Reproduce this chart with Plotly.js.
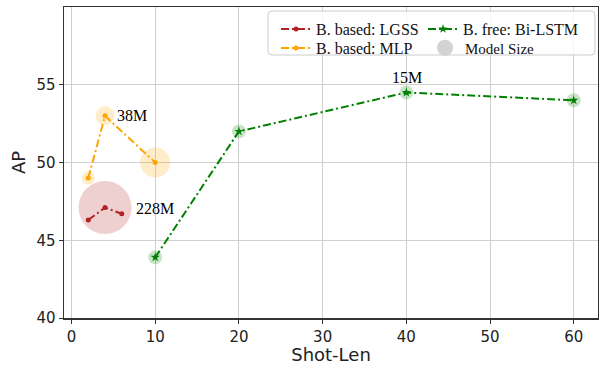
<!DOCTYPE html>
<html>
<head>
<meta charset="utf-8">
<script src="https://cdn.plot.ly/plotly-3.0.1.min.js"></script>
<style>html,body{margin:0;padding:0;background:#fff;} #chart{width:599px;height:365px;}</style>
</head>
<body>
<div id="chart"></div>
<script>
// Data
const lgssX = [2, 4, 6];
const lgssY = [46.3, 47.1, 46.7];
const mlpX = [2, 4, 10];
const mlpY = [49.0, 53.0, 50.0];
const lstmX = [10, 20, 40, 60];
const lstmY = [43.9, 52.0, 54.5, 54.0];

// Model size bubbles (diameters in px)
const lgssBubbleX = [4];
const lgssBubbleY = [47.1];
const lgssBubbleSize = [53];
const mlpBubbleSize = [13, 19, 30];
const lstmBubbleSize = [14, 14, 14, 14];

const sizeLabels = ["228M", "38M", "15M"];
const sizeLabelX = [4, 4, 40];
const sizeLabelY = [47.1, 53.0, 54.5];

const serif = "Liberation Serif, Times New Roman, serif";
const sans = "DejaVu Sans, sans-serif";
const dashdot = "8px,3px,2px,3px";

const W = 599, H = 365;
const M = {l: 64, r: 1, t: 7, b: 47};
const PW = W - M.l - M.r, PH = H - M.t - M.b;
const px2x = p => (p - M.l) / PW;
const px2y = p => (H - M.b - p) / PH;

const traces = [
  // bubbles
  {x: lgssBubbleX, y: lgssBubbleY, mode: 'markers', type: 'scatter', showlegend: false, hoverinfo: 'skip',
   marker: {size: lgssBubbleSize, color: 'rgba(178,34,34,0.3)', line: {width: 0}}},
  {x: mlpX, y: mlpY, mode: 'markers', type: 'scatter', showlegend: false, hoverinfo: 'skip',
   marker: {size: mlpBubbleSize, color: 'rgba(255,165,0,0.3)', line: {width: 0}}},
  {x: lstmX, y: lstmY, mode: 'markers', type: 'scatter', showlegend: false, hoverinfo: 'skip',
   marker: {size: lstmBubbleSize, color: 'rgba(0,128,0,0.3)', line: {width: 0}}},
  // lines
  {x: lgssX, y: lgssY, mode: 'lines+markers', type: 'scatter', name: 'B. based: LGSS', legend: 'legend',
   line: {color: '#b22222', width: 2, dash: dashdot}, marker: {symbol: 'circle', size: 5, color: '#b22222'}},
  {x: mlpX, y: mlpY, mode: 'lines+markers', type: 'scatter', name: 'B. based: MLP', legend: 'legend4',
   line: {color: 'orange', width: 2, dash: dashdot}, marker: {symbol: 'circle', size: 5, color: 'orange'}},
  {x: lstmX, y: lstmY, mode: 'lines+markers', type: 'scatter', name: 'B. free: Bi-LSTM', legend: 'legend2',
   line: {color: 'green', width: 2, dash: dashdot}, marker: {symbol: 'star', size: 7, color: 'green'}},
  {x: [null], y: [null], mode: 'markers', type: 'scatter', name: 'Model Size', legend: 'legend3',
   marker: {symbol: 'circle', size: 16, color: 'lightgray'}}
];

const annotations = [
  {x: sizeLabelX[0], y: sizeLabelY[0], text: sizeLabels[0], showarrow: false, xanchor: 'left', yanchor: 'middle', xshift: 29, yshift: -1,
   font: {family: serif, size: 16, color: '#000'}},
  {x: sizeLabelX[1], y: sizeLabelY[1], text: sizeLabels[1], showarrow: false, xanchor: 'left', yanchor: 'middle', xshift: 10, yshift: 0,
   font: {family: serif, size: 16, color: '#000'}},
  {x: sizeLabelX[2], y: sizeLabelY[2], text: sizeLabels[2], showarrow: false, xanchor: 'center', yanchor: 'bottom', xshift: 1, yshift: 5,
   font: {family: serif, size: 16, color: '#000'}}
];

// rounded legend frame (pixel box -> paper coords)
function roundRect(x0, y0, x1, y1, r) {
  const X = px2x, Y = px2y;
  return `M ${X(x0 + r)},${Y(y0)} L ${X(x1 - r)},${Y(y0)} Q ${X(x1)},${Y(y0)} ${X(x1)},${Y(y0 + r)} ` +
         `L ${X(x1)},${Y(y1 - r)} Q ${X(x1)},${Y(y1)} ${X(x1 - r)},${Y(y1)} ` +
         `L ${X(x0 + r)},${Y(y1)} Q ${X(x0)},${Y(y1)} ${X(x0)},${Y(y1 - r)} ` +
         `L ${X(x0)},${Y(y0 + r)} Q ${X(x0)},${Y(y0)} ${X(x0 + r)},${Y(y0)} Z`;
}

const legendCommon = {
  orientation: 'v', yanchor: 'top', xanchor: 'left',
  bgcolor: 'rgba(0,0,0,0)', borderwidth: 0, itemwidth: 30,
  font: {family: serif, size: 16, color: '#111'}, tracegroupgap: 0
};

const layout = {
  width: W, height: H,
  margin: M,
  paper_bgcolor: '#fff', plot_bgcolor: '#fff',
  xaxis: {
    range: [-0.9, 62.9], tickvals: [0,10,20,30,40,50,60], ticktext: ['0','10','20','30','40','50','60'],
    showgrid: true, gridcolor: '#cfcfcf', gridwidth: 1, zeroline: false,
    showline: true, linecolor: '#333', linewidth: 1.5, mirror: true,
    ticks: 'outside', ticklen: 4, tickcolor: '#333', tickwidth: 1,
    tickfont: {family: sans, size: 15, color: '#222'},
    title: {text: 'Shot-Len', font: {family: sans, size: 18, color: '#222'}, standoff: 3}
  },
  yaxis: {
    range: [40, 60], tickvals: [40,45,50,55], ticktext: ['40','45','50','55'],
    showgrid: true, gridcolor: '#cfcfcf', gridwidth: 1, zeroline: false,
    showline: true, linecolor: '#333', linewidth: 1.5, mirror: true,
    ticks: 'outside', ticklen: 4, tickcolor: '#333', tickwidth: 1,
    tickfont: {family: sans, size: 15, color: '#222'},
    title: {text: 'AP', font: {family: sans, size: 18, color: '#222'}, standoff: 6}
  },
  legend: Object.assign({}, legendCommon, {x: px2x(276), y: px2y(12)}),
  legend4: Object.assign({}, legendCommon, {x: px2x(276), y: px2y(31)}),
  legend2: Object.assign({}, legendCommon, {x: px2x(423), y: px2y(12)}),
  legend3: Object.assign({}, legendCommon, {x: px2x(425), y: px2y(31.5), font: {family: serif, size: 15, color: '#111'}}),
  shapes: [
    {type: 'path', xref: 'paper', yref: 'paper', path: roundRect(268, 11, 595, 55, 4),
     fillcolor: 'rgba(255,255,255,0.8)', line: {color: '#cccccc', width: 1}, layer: 'above'}
  ],
  annotations: annotations,
  showlegend: true
};

Plotly.newPlot('chart', traces, layout, {displayModeBar: false, staticPlot: true});
</script>
</body>
</html>
